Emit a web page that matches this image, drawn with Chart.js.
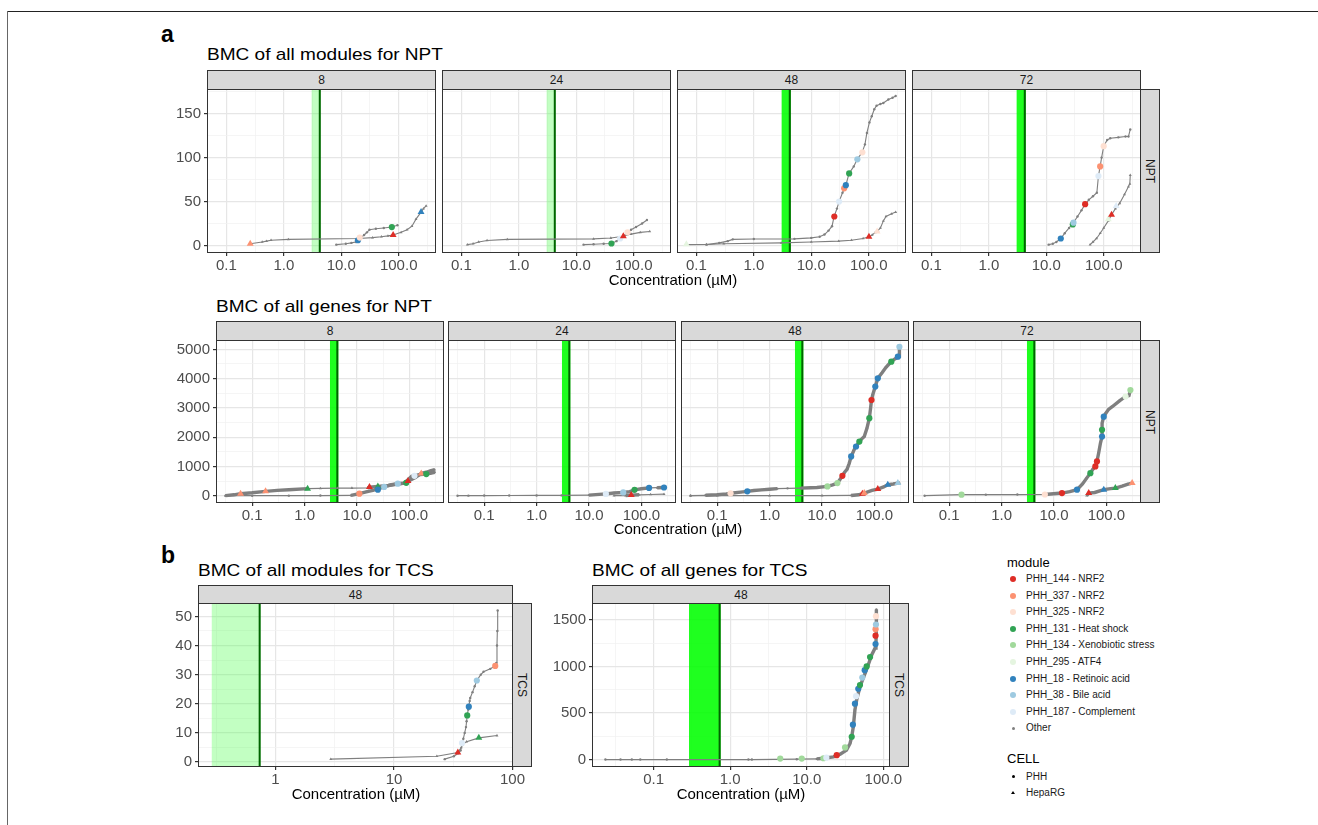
<!DOCTYPE html>
<html>
<head>
<meta charset="utf-8">
<title>BMC of modules and genes</title>
<script src="https://cdn.jsdelivr.net/npm/chart.js@4.4.1/dist/chart.umd.min.js"></script>
<style>
  html, body { margin: 0; padding: 0; background: #fff; }
  body { position: relative; width: 1318px; height: 825px; overflow: hidden; font-family: "Liberation Sans", Arial, sans-serif; color: #000; }
  .abs { position: absolute; }
  .frame-top { left: 7px; top: 11px; width: 1311px; height: 0; border-top: 1.5px solid #222; }
  .frame-left { left: 7px; top: 11px; width: 0; height: 814px; border-left: 1px solid #666; }
  .tag { font-weight: bold; font-size: 23px; line-height: 1; }
  .title { font-size: 17px; line-height: 1; transform: scaleX(1.12); transform-origin: 0 0; white-space: nowrap; }
  .axt { font-size: 15px; line-height: 1; transform: translateX(-50%); white-space: nowrap; }
  .strip { background: #d9d9d9; border: 1px solid #333; box-sizing: border-box; font-size: 12px; color: #1a1a1a; display: flex; align-items: center; justify-content: center; }
  .strip.r span { transform: rotate(90deg); white-space: nowrap; }
  canvas { position: absolute; }
  .lg-title { font-size: 13px; line-height: 1; }
  .lg-item { font-size: 10px; line-height: 12px; height: 12px; white-space: nowrap; color: #1a1a1a; }
  .dot { position: absolute; border-radius: 50%; }
</style>
</head>
<body>
<div class="abs frame-top"></div>
<div class="abs frame-left"></div>
<script>
// ---- data ----
const times = ['8', '24', '48', '72'];
const moduleKeys = ['PHH_144', 'PHH_337', 'PHH_325', 'PHH_131', 'PHH_134', 'PHH_295', 'PHH_18', 'PHH_38', 'PHH_187'];
const moduleLabels = ['PHH_144 - NRF2', 'PHH_337 - NRF2', 'PHH_325 - NRF2', 'PHH_131 - Heat shock',
  'PHH_134 - Xenobiotic stress', 'PHH_295 - ATF4', 'PHH_18 - Retinoic acid', 'PHH_38 - Bile acid', 'PHH_187 - Complement'];
const moduleColors = ['#de2d26', '#fc9272', '#fee0d2', '#31a354', '#a1d99b', '#e5f5e0', '#3182bd', '#9ecae1', '#deebf7'];
const cellTypes = ['PHH', 'HepaRG'];

// green bands (lower, upper concentration)
const nptBand = [3.05, 4.4];
const tcsBand = [0.29, 0.75];

// axis breaks
const xTicksA = [0.0316, 0.1, 0.316, 1, 3.16, 10, 31.6, 100, 316];
const xMajorA = [0.1, 1, 10, 100];
const xLabelsA = ['0.1', '1.0', '10.0', '100.0'];
const xTicksB1 = [0.316, 1, 3.16, 10, 31.6, 100];
const xMajorB1 = [1, 10, 100];
const xLabelsB1 = ['1', '10', '100'];
const yMajorModNpt = [0, 50, 100, 150];
const yMinorModNpt = [25, 75, 125, 175];
const yMajorGeneNpt = [0, 1000, 2000, 3000, 4000, 5000];
const yMinorGeneNpt = [500, 1500, 2500, 3500, 4500];
const yMajorModTcs = [0, 10, 20, 30, 40, 50];
const yMinorModTcs = [5, 15, 25, 35, 45];
const yMajorGeneTcs = [0, 500, 1000, 1500];
const yMinorGeneTcs = [250, 750, 1250];

// a: modules NPT  [BMC, cumulative count]
const nptMod8Phh = [[8.2,1],[12,2],[15,3],[18,4],[20,6],[22,9],[25,12],[28,15],[31,18],[40,19],[55,20],[76,21],[95,23]];
const nptMod8Hep = [[0.26,2],[0.42,4],[0.5,5],[0.6,6],[1.2,7],[20,8],[35,9],[50,10],[65,11],[80,12],[110,15],[140,18],[170,22],[200,30],[245,38],[270,42],[300,45]];
const nptMod8Marks = [['PHH_337','HepaRG',0.26,2],['PHH_18','PHH',19.5,6],['PHH_325','PHH',21,9],['PHH_144','HepaRG',80,12],['PHH_131','PHH',76,21],['PHH_18','HepaRG',245,38]];

const nptMod24Phh = [[13.4,1],[20,1.5],[30,2],[41,2.3],[50,5],[58,8],[66,10],[75,14],[90,18],[110,21],[140,25],[170,29]];
const nptMod24Hep = [[0.127,1],[0.16,2],[0.2,4],[0.28,5.7],[0.63,7],[20,7.6],[40,8.5],[66,10.6],[90,13],[130,15],[190,16]];
const nptMod24Marks = [['PHH_131','PHH',41,2.3],['PHH_187','PHH',58,8],['PHH_144','HepaRG',66,10.6],['PHH_325','PHH',78,15]];

const nptMod48Phh = [[0.15,1],[0.25,3],[0.35,5],[0.43,7],[1,7.5],[5.1,7.6],[10,8.7],[14,10],[17,12.5],[20,17],[23,22],[25,33],[28,42],[30.5,50],[35,60],[40,68.6],[45.5,82],[55,90],[63,98],[77,106],[86,115],[93,128],[103,140],[113,147],[125,155],[137,159],[160,161],[180,162],[220,166],[260,168],[295,170]];
const nptMod48Hep = [[0.067,1],[0.15,1.2],[0.3,2],[3,3],[10,4],[30,5],[50,6],[80,8],[101,10],[115,12],[130,15],[145,17],[160,20],[180,28],[200,33],[250,36],[295,38]];
const nptMod48Marks = [['PHH_295','HepaRG',0.067,1.5],['PHH_144','PHH',25.2,33],['PHH_187','PHH',30.5,50],['PHH_337','PHH',37.4,65],['PHH_18','PHH',40,68.6],['PHH_131','PHH',45.7,82],['PHH_38','PHH',63.5,98],['PHH_325','PHH',77.6,106],['PHH_144','HepaRG',101,10],['PHH_325','HepaRG',140,16]];

const nptMod72Phh = [[11,1],[13,2],[15,4],[17.9,8],[21,14],[25,20],[29.8,26],[35,33],[41,40],[47.5,47],[55,52],[65,56],[76,60],[81,79],[86.7,90],[92,100],[100,113],[115,120],[130,122],[180,123],[240,124],[270,124],[290,132]];
const nptMod72Hep = [[58,1],[65,4],[75,8],[87,14],[100,20],[120,28],[137,35],[160,42],[190,48],[230,58],[270,67],[285,70],[290,80]];
const nptMod72Marks = [['PHH_18','PHH',17.9,8],['PHH_131','PHH',29,24],['PHH_38','PHH',29.8,26],['PHH_144','PHH',47.5,47],['PHH_187','PHH',81,79],['PHH_337','PHH',86.7,90],['PHH_325','PHH',100,113],['PHH_295','HepaRG',120,30],['PHH_144','HepaRG',137,35],['PHH_187','HepaRG',165,45]];

// a: genes NPT
const nptGene8Phh = [[0.031,0],[0.1,0],[0.5,2],[2,5],[7.7,10],[11,68],[15,130],[20,180],[25,230],[33,300],[45,375],[60,410],[80,430],[95,550],[110,660],[140,700],[160,720],[210,740],[250,760],[303,800]];
const nptGene8Hep = [[0.031,0],[0.045,30],[0.06,68],[0.1,100],[0.18,148],[0.3,180],[0.5,205],[1.14,240],[2,250],[4.3,260],[8,261],[16,262],[17.5,295],[25,318],[40,350],[60,400],[80,430],[100,520],[130,620],[168,760],[210,800],[250,850],[303,890]];
const nptGene8Marks = [['PHH_337','HepaRG',0.06,68],['PHH_337','HepaRG',0.18,148],['PHH_131','HepaRG',1.14,240],['PHH_337','PHH',11.1,68],['PHH_144','HepaRG',17.3,295],['PHH_131','HepaRG',25,318],['PHH_18','PHH',25,205],['PHH_38','PHH',33,300],['PHH_38','PHH',60,410],['PHH_131','PHH',87,440],['PHH_144','HepaRG',94,500],['PHH_187','PHH',125,680],['PHH_337','HepaRG',168,760],['PHH_131','PHH',210,740]];

const nptGene24Phh = [[0.031,0],[0.05,2],[0.1,4],[0.3,6],[1,8],[3,10],[10,20],[21,60],[30,90],[45,110],[60,140],[74,200],[100,235],[140,265],[200,272],[270,280]];
const nptGene24Hep = [[30,0],[50,5],[64,20],[90,30],[150,40],[270,50]];
const nptGene24Marks = [['PHH_187','PHH',21,60],['PHH_38','PHH',45,110],['PHH_144','HepaRG',64,20],['PHH_131','PHH',74,200],['PHH_18','PHH',140,265],['PHH_18','PHH',270,280]];

const nptGene48Phh = [[0.031,0],[0.06,15],[0.1,34],[0.15,60],[0.2,90],[0.28,120],[0.376,148],[0.5,175],[0.7,200],[1,220],[1.4,240],[2.2,250],[3.9,260],[6,270],[8,280],[12.7,318],[16,370],[19.7,430],[22,550],[24.5,680],[27,800],[30,900],[33,1100],[36,1340],[41,1570],[44.6,1680],[51.6,1850],[58,1950],[64,2020],[72,2300],[80,2650],[84,2950],[88,3270],[93,3450],[99,3610],[107,3800],[116,4010],[140,4200],[165,4380],[190,4500],[210,4580],[250,4680],[300,4750],[300,5090]];
const nptGene48Hep = [[0.031,0],[0.1,0],[1,2],[10,5],[36,8],[50,30],[59,68],[64,90],[90,180],[116,227],[150,300],[180,375],[230,400],[280,430],[300,440]];
const nptGene48Marks = [['PHH_325','PHH',0.18,80],['PHH_18','PHH',0.376,148],['PHH_134','PHH',12.7,318],['PHH_134','PHH',19.7,430],['PHH_144','PHH',24.5,680],['PHH_18','PHH',36,1340],['PHH_18','PHH',44.6,1680],['PHH_131','PHH',51.6,1850],['PHH_131','PHH',80,2650],['PHH_144','PHH',88,3270],['PHH_18','PHH',104,3730],['PHH_18','PHH',116,4010],['PHH_131','PHH',210,4580],['PHH_18','PHH',280,4750],['PHH_38','PHH',300,5090],['PHH_144','HepaRG',59,68],['PHH_337','HepaRG',64,90],['PHH_144','HepaRG',116,227],['PHH_18','HepaRG',180,375],['PHH_38','HepaRG',280,430]];

const nptGene72Phh = [[0.034,0],[0.172,34],[0.5,36],[2,38],[6.7,40],[14.2,90],[20,140],[27.5,205],[35,400],[42,600],[49.4,770],[55,900],[61.5,1000],[66,1170],[71,1450],[77,1800],[82.5,2020],[82.5,2250],[83,2480],[89,2700],[96,2800],[110,2950],[129,3040],[180,3250],[232,3390],[269,3420],[287,3610]];
const nptGene72Hep = [[42,0],[46,90],[60,110],[89,205],[120,240],[148,260],[200,330],[250,390],[310,430]];
const nptGene72Marks = [['PHH_134','PHH',0.172,34],['PHH_325','PHH',6.7,40],['PHH_144','PHH',14.2,90],['PHH_18','PHH',27.5,205],['PHH_131','PHH',49.4,770],['PHH_144','PHH',61.5,1000],['PHH_144','PHH',66,1170],['PHH_18','PHH',82.5,2020],['PHH_131','PHH',82.5,2250],['PHH_18','PHH',89,2700],['PHH_295','PHH',232,3390],['PHH_134','PHH',287,3610],['PHH_144','HepaRG',46,90],['PHH_18','HepaRG',89,205],['PHH_131','HepaRG',148,260],['PHH_337','HepaRG',310,430]];

// b: TCS, 48 h
const tcsModPhh = [[26.8,1],[32,2],[35,3],[36.5,4],[37.5,6],[38.5,8],[39.5,10],[40.5,12],[41,14],[41.5,16],[42.3,18],[42.8,19],[43.5,21],[44,22],[46,24],[48,26],[50,28],[54,30],[57,31],[65,32],[71.5,33],[73,34],[74,40],[74.5,45],[75,52]];
const tcsModHep = [[2.93,1],[23,2],[34.6,3.3],[37,5],[38,6],[41,7],[52,8.3],[74,9.1]];
const tcsModMarks = [['PHH_144','HepaRG',34.6,3.3],['PHH_187','PHH',37.5,6.5],['PHH_131','HepaRG',52,8.3],['PHH_131','PHH',41.5,16],['PHH_18','PHH',42.8,19],['PHH_38','PHH',50,28],['PHH_337','PHH',71.5,33]];

const tcsGenePhh = [[0.0235,0],[0.037,0],[0.052,0],[0.067,0],[0.149,0],[1.73,0],[1.92,0],[7.4,4],[13.5,7],[16.5,14],[22.3,29],[27.3,58],[33,101],[36.7,173],[38.6,245],[40.5,352],[42.5,532],[44.8,640],[49.5,784],[57.8,928],[63.5,1018],[70.6,1126],[78,1198],[80,1252],[81,1396],[81,1611]];
const tcsGeneMarks = [['PHH_134','PHH',4.5,10],['PHH_134','PHH',8.6,10],['PHH_134','PHH',16.5,14],['PHH_187','PHH',18,20],['PHH_144','PHH',24.6,47],['PHH_134','PHH',31.6,130],['PHH_131','PHH',38.6,245],['PHH_18','PHH',40,375],['PHH_18','PHH',42.5,600],['PHH_187','PHH',44,680],['PHH_18','PHH',47,760],['PHH_131','PHH',49.5,800],['PHH_38','PHH',53,880],['PHH_18','PHH',57,960],['PHH_131','PHH',60.5,1000],['PHH_131','PHH',67,1100],['PHH_18','PHH',79,1240],['PHH_144','PHH',79,1330],['PHH_337','PHH',79,1400],['PHH_38','PHH',80,1450],['PHH_325','PHH',80,1540]];

// ---- drawing ----
const FONT = '"Liberation Sans", Arial, sans-serif';
const GRAY = '#7f7f7f';
const modColor = Object.fromEntries(moduleKeys.map((k, i) => [k, moduleColors[i]]));

function addDiv(cls, css, text) {
  const d = document.createElement('div');
  d.className = 'abs ' + cls;
  d.style.cssText = css;
  if (text !== undefined) d.innerHTML = text;
  document.body.appendChild(d);
  return d;
}

const panelFrame = {
  id: 'panelFrame',
  beforeDatasetsDraw(chart, args, o) {
    if (!o.range) return;
    const {ctx, chartArea: a, scales: {x}} = chart;
    const x0 = Math.max(a.left, x.getPixelForValue(o.range[0]));
    const x1 = Math.min(a.right, x.getPixelForValue(o.range[1]));
    ctx.save();
    ctx.fillStyle = o.fill;
    ctx.fillRect(x0, a.top, x1 - x0, a.bottom - a.top);
    ctx.strokeStyle = o.line;
    ctx.lineWidth = 2;
    ctx.beginPath();
    ctx.moveTo(x1 - 1, a.top);
    ctx.lineTo(x1 - 1, a.bottom);
    ctx.stroke();
    ctx.restore();
  },
  afterDraw(chart) {
    const {ctx, chartArea: a} = chart;
    ctx.save();
    ctx.strokeStyle = '#333';
    ctx.lineWidth = 1;
    ctx.strokeRect(a.left + 0.5, a.top + 0.5, a.right - a.left - 1, a.bottom - a.top - 1);
    ctx.restore();
  }
};

function makeChart(box, cfg) {
  const yW = cfg.showY ? 46 : 0;
  const padL = 2, padT = 2, padR = 18, xH = 24;
  const W = padL + yW + box.w + padR, H = padT + box.h + xH;
  const cv = document.createElement('canvas');
  cv.width = W; cv.height = H;
  cv.style.left = (box.l - yW - padL) + 'px';
  cv.style.top = (box.t - padT) + 'px';
  cv.style.width = W + 'px';
  cv.style.height = H + 'px';
  document.body.appendChild(cv);

  const xMajor = new Set(cfg.xMajor);
  const yMajor = new Set(cfg.yMajor);
  const xLab = new Map(cfg.xMajor.map((v, i) => [v, cfg.xLabels[i]]));
  const xAll = cfg.xTicks.filter(v => v >= cfg.xMin && v <= cfg.xMax);
  const yAll = cfg.yMajor.concat(cfg.yMinor).filter(v => v >= cfg.yMin && v <= cfg.yMax).sort((a, b) => a - b);

  const datasets = [{
    data: cfg.marks.map(m => ({x: m[2], y: m[3]})),
    showLine: false,
    pointStyle: cfg.marks.map(m => m[1] === 'HepaRG' ? 'triangle' : 'circle'),
    pointRadius: cfg.marks.map(m => m[1] === 'HepaRG' ? 4 : 3.1),
    pointBackgroundColor: cfg.marks.map(m => modColor[m[0]]),
    pointBorderColor: 'rgba(0,0,0,0)',
    pointBorderWidth: 0
  }];
  cfg.curves.forEach(c => {
    const pts = c.pts;
    // gene curves: thick where many genes pile up per pixel, thin where they are sparse
    const segWidth = s => {
      const dy = Math.abs(pts[s.p1DataIndex][1] - pts[s.p0DataIndex][1]);
      const len = Math.hypot(s.p1.x - s.p0.x, s.p1.y - s.p0.y) || 1;
      return dy / len > 1 ? 3.4 : 1.2;
    };
    datasets.push({
      data: pts.map(p => ({x: p[0], y: p[1]})),
      showLine: true,
      borderColor: GRAY,
      borderWidth: cfg.thick ? 3.2 : 1.1,
      segment: cfg.thick ? {borderWidth: segWidth} : undefined,
      pointStyle: c.cell === 'HepaRG' ? 'triangle' : 'circle',
      pointRadius: c.cell === 'HepaRG' ? 1.7 : 1.2,
      pointBackgroundColor: GRAY,
      pointBorderColor: 'rgba(0,0,0,0)',
      pointBorderWidth: 0
    });
  });

  const tickFont = {family: FONT, size: 15};
  new Chart(cv, {
    type: 'scatter',
    data: {datasets},
    plugins: [panelFrame],
    options: {
      responsive: false,
      animation: false,
      devicePixelRatio: 1,
      events: [],
      layout: {autoPadding: false, padding: {left: padL, top: padT, right: padR, bottom: 0}},
      plugins: {
        legend: {display: false},
        tooltip: {enabled: false},
        panelFrame: {range: cfg.band, fill: cfg.bandFill, line: '#006400'}
      },
      scales: {
        x: {
          type: 'logarithmic',
          min: cfg.xMin, max: cfg.xMax,
          afterBuildTicks: s => { s.ticks = xAll.map(v => ({value: v})); },
          afterFit: s => { s.height = xH; s.paddingLeft = 0; s.paddingRight = 0; },
          border: {display: false},
          grid: {
            color: c => (c.tick && xMajor.has(c.tick.value) ? '#e6e6e6' : '#f1f1f1'),
            lineWidth: c => (c.tick && xMajor.has(c.tick.value) ? 1.2 : 0.7),
            tickColor: c => (c.tick && xMajor.has(c.tick.value) ? '#333' : 'rgba(0,0,0,0)'),
            tickLength: 3
          },
          ticks: {
            autoSkip: false, maxRotation: 0, minRotation: 0, padding: 1,
            color: '#4d4d4d', font: tickFont,
            callback: v => (xLab.has(v) ? xLab.get(v) : '')
          }
        },
        y: {
          type: 'linear',
          min: cfg.yMin, max: cfg.yMax,
          afterBuildTicks: s => { s.ticks = yAll.map(v => ({value: v})); },
          afterFit: s => { s.width = yW; s.paddingTop = 0; s.paddingBottom = 0; },
          border: {display: false},
          grid: {
            color: c => (c.tick && yMajor.has(c.tick.value) ? '#e6e6e6' : '#f1f1f1'),
            lineWidth: c => (c.tick && yMajor.has(c.tick.value) ? 1.2 : 0.7),
            tickColor: c => (c.tick && yMajor.has(c.tick.value) ? '#333' : 'rgba(0,0,0,0)'),
            tickLength: 3,
            drawTicks: cfg.showY
          },
          ticks: {
            display: cfg.showY, autoSkip: false, padding: 3,
            color: '#4d4d4d', font: tickFont,
            callback: v => (yMajor.has(v) ? String(v) : '')
          }
        }
      }
    }
  });
}

function topStrip(box, label, h) {
  addDiv('strip', `left:${box.l}px;top:${box.t - h}px;width:${box.w}px;height:${h + 1}px;`, label);
}
function rightStrip(box, label) {
  addDiv('strip r', `left:${box.l + box.w - 1}px;top:${box.t}px;width:20px;height:${box.h}px;`, `<span>${label}</span>`);
}

// ---- layout ----
const LIGHT = 'rgba(80,255,80,0.35)';
const BRIGHT = 'rgba(0,255,0,0.88)';

const rowA1 = {t: 89, h: 164, ls: [207, 442, 677, 912], w: 229};
const rowA2 = {t: 340, h: 163, ls: [216, 448, 681, 913], w: 228};
const boxB1 = {l: 198, t: 603, w: 315, h: 164};
const boxB2 = {l: 592, t: 603, w: 298, h: 164};

const modNpt = [[nptMod8Phh, nptMod8Hep, nptMod8Marks], [nptMod24Phh, nptMod24Hep, nptMod24Marks],
  [nptMod48Phh, nptMod48Hep, nptMod48Marks], [nptMod72Phh, nptMod72Hep, nptMod72Marks]];
const geneNpt = [[nptGene8Phh, nptGene8Hep, nptGene8Marks], [nptGene24Phh, nptGene24Hep, nptGene24Marks],
  [nptGene48Phh, nptGene48Hep, nptGene48Marks], [nptGene72Phh, nptGene72Hep, nptGene72Marks]];
const modBandFill = [LIGHT, LIGHT, BRIGHT, BRIGHT];

addDiv('tag', 'left:161px;top:23px;', 'a');
addDiv('title', 'left:207px;top:46px;', 'BMC of all modules for NPT');
addDiv('title', 'left:216px;top:297.5px;', 'BMC of all genes for NPT');
addDiv('tag', 'left:161px;top:544px;', 'b');
addDiv('title', 'left:198px;top:562px;', 'BMC of all modules for TCS');
addDiv('title', 'left:592px;top:561.5px;', 'BMC of all genes for TCS');

times.forEach((tm, i) => {
  const box = {l: rowA1.ls[i], t: rowA1.t, w: rowA1.w, h: rowA1.h};
  topStrip(box, tm, 19);
  makeChart(box, {
    showY: i === 0, thick: false,
    xMin: 0.046, xMax: 446, xTicks: xTicksA, xMajor: xMajorA, xLabels: xLabelsA,
    yMin: -8.5, yMax: 178, yMajor: yMajorModNpt, yMinor: yMinorModNpt,
    curves: [{pts: modNpt[i][0], cell: cellTypes[0]}, {pts: modNpt[i][1], cell: cellTypes[1]}],
    marks: modNpt[i][2], band: nptBand, bandFill: modBandFill[i]
  });
  if (i === 3) rightStrip(box, 'NPT');
});
addDiv('axt', 'left:673px;top:272px;', 'Concentration (µM)');

times.forEach((tm, i) => {
  const box = {l: rowA2.ls[i], t: rowA2.t, w: rowA2.w, h: rowA2.h};
  topStrip(box, tm, 19);
  makeChart(box, {
    showY: i === 0, thick: true,
    xMin: 0.0204, xMax: 457, xTicks: xTicksA, xMajor: xMajorA, xLabels: xLabelsA,
    yMin: -250, yMax: 5320, yMajor: yMajorGeneNpt, yMinor: yMinorGeneNpt,
    curves: [{pts: geneNpt[i][0], cell: cellTypes[0]}, {pts: geneNpt[i][1], cell: cellTypes[1]}],
    marks: geneNpt[i][2], band: nptBand, bandFill: BRIGHT
  });
  if (i === 3) rightStrip(box, 'NPT');
});
addDiv('axt', 'left:678px;top:521px;', 'Concentration (µM)');

topStrip(boxB1, '48', 18);
makeChart(boxB1, {
  showY: true, thick: false,
  xMin: 0.222, xMax: 101, xTicks: xTicksB1, xMajor: xMajorB1, xLabels: xLabelsB1,
  yMin: -1.7, yMax: 54.6, yMajor: yMajorModTcs, yMinor: yMinorModTcs,
  curves: [{pts: tcsModPhh, cell: cellTypes[0]}, {pts: tcsModHep, cell: cellTypes[1]}],
  marks: tcsModMarks, band: tcsBand, bandFill: LIGHT
});
rightStrip(boxB1, 'TCS');
addDiv('axt', 'left:356px;top:786px;', 'Concentration (µM)');

topStrip(boxB2, '48', 18);
makeChart(boxB2, {
  showY: true, thick: true,
  xMin: 0.0157, xMax: 122, xTicks: xTicksA, xMajor: xMajorA, xLabels: xLabelsA,
  yMin: -80, yMax: 1681, yMajor: yMajorGeneTcs, yMinor: yMinorGeneTcs,
  curves: [{pts: tcsGenePhh, cell: cellTypes[0]}],
  marks: tcsGeneMarks, band: tcsBand, bandFill: BRIGHT
});
rightStrip(boxB2, 'TCS');
addDiv('axt', 'left:741px;top:786px;', 'Concentration (µM)');

// ---- legend ----
addDiv('lg-title', 'left:1007px;top:555.5px;', 'module');
moduleLabels.concat(['Other']).forEach((lab, i) => {
  const cy = 579 + i * 16.6;
  const isOther = i === moduleLabels.length;
  const r = isOther ? 1.5 : 3;
  addDiv('dot', `left:${1013 - r}px;top:${cy - r}px;width:${2 * r}px;height:${2 * r}px;background:${isOther ? GRAY : moduleColors[i]};`);
  addDiv('lg-item', `left:1026px;top:${cy - 6}px;`, lab);
});
addDiv('lg-title', 'left:1007px;top:751.5px;', 'CELL');
addDiv('dot', 'left:1011.5px;top:775.2px;width:3px;height:3px;background:#000;');
addDiv('lg-item', 'left:1026px;top:770.7px;', 'PHH');
addDiv('abs', 'left:1011px;top:790.5px;width:0;height:0;border-left:2px solid transparent;border-right:2px solid transparent;border-bottom:3.5px solid #000;');
addDiv('lg-item', 'left:1026px;top:786.7px;', 'HepaRG');
</script>
</body>
</html>
